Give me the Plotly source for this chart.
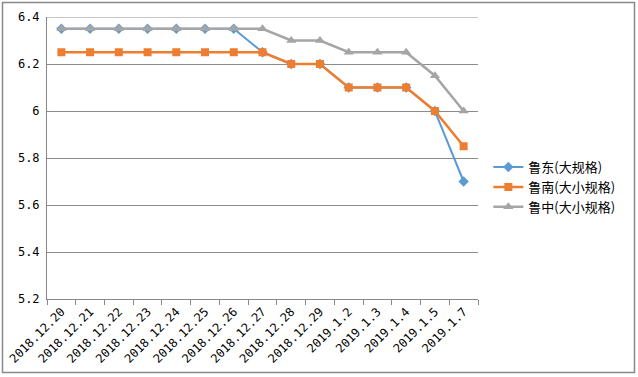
import plotly.graph_objects as go

dates = ["2018.12.20", "2018.12.21", "2018.12.22", "2018.12.23", "2018.12.24",
         "2018.12.25", "2018.12.26", "2018.12.27", "2018.12.28", "2018.12.29",
         "2019.1.2", "2019.1.3", "2019.1.4", "2019.1.5", "2019.1.7"]
ludong = [6.35, 6.35, 6.35, 6.35, 6.35, 6.35, 6.35, 6.25, 6.2, 6.2, 6.1, 6.1, 6.1, 6.0, 5.7]
lunan = [6.25, 6.25, 6.25, 6.25, 6.25, 6.25, 6.25, 6.25, 6.2, 6.2, 6.1, 6.1, 6.1, 6.0, 5.85]
luzhong = [6.35, 6.35, 6.35, 6.35, 6.35, 6.35, 6.35, 6.35, 6.3, 6.3, 6.25, 6.25, 6.25, 6.15, 6.0]
names = ["鲁东(大规格)", "鲁南(大小规格)", "鲁中(大小规格)"]
y_ticks = [5.2, 5.4, 5.6, 5.8, 6.0, 6.2, 6.4]
y_tick_text = ["5.2", "5.4", "5.6", "5.8", "6", "6.2", "6.4"]

fig = go.Figure()
fig.add_trace(go.Scatter(x=dates, y=ludong, name=names[0], mode="lines+markers",
                         line=dict(color="#5B9BD5", width=2),
                         marker=dict(symbol="diamond", size=8, color="#5B9BD5")))
fig.add_trace(go.Scatter(x=dates, y=lunan, name=names[1], mode="lines+markers",
                         line=dict(color="#ED7D31", width=2.5),
                         marker=dict(symbol="square", size=8, color="#ED7D31")))
fig.add_trace(go.Scatter(x=dates, y=luzhong, name=names[2], mode="lines+markers",
                         line=dict(color="#A5A5A5", width=2.5),
                         marker=dict(symbol="triangle-up", size=9, color="#A5A5A5")))

tickfont = dict(family="DejaVu Sans Mono", size=12, color="#000000")

W, H = 638, 377
l, r, t, b = 47, 160, 17, 78

fig.update_layout(
    width=W, height=H,
    margin=dict(l=l, r=r, t=t, b=b, autoexpand=False),
    paper_bgcolor="white", plot_bgcolor="white",
    showlegend=True,
    legend=dict(x=1.024, y=0.397, xanchor="left", yanchor="middle",
                font=dict(family="Noto Sans CJK SC", size=13, color="#000000"),
                bgcolor="rgba(0,0,0,0)", tracegroupgap=0),
    xaxis=dict(type="category", range=[-0.5, len(dates) - 0.5], tickangle=-45,
               tickfont=tickfont, automargin=False,
               showgrid=False, showline=True, linecolor="#888888", linewidth=1,
               ticks="outside", tickson="boundaries", ticklen=5, tickcolor="#888888",
               fixedrange=True),
    yaxis=dict(range=[5.2, 6.4], tickvals=y_ticks, ticktext=y_tick_text, tickfont=tickfont,
               automargin=False, ticklabelstandoff=4,
               showgrid=True, gridcolor="#8c8c8c", gridwidth=1,
               showline=True, linecolor="#888888", linewidth=1,
               ticks="", zeroline=False, fixedrange=True),
)

pw, ph = W - l - r, H - t - b
def px_x(x):
    return (x - l) / pw
def px_y(y):
    return (H - b - y) / ph
fig.add_shape(type="line", xref="paper", yref="y", x0=0, x1=1, y0=6.4, y1=6.4,
              line=dict(color="#8c8c8c", width=1))
fig.add_shape(type="rect", xref="paper", yref="paper",
              x0=px_x(2.5), x1=px_x(634.5), y0=px_y(372.5), y1=px_y(2.5),
              line=dict(color="#888888", width=1.5), fillcolor="rgba(0,0,0,0)")

fig.write_html("out.html", config={"displayModeBar": False},
               post_script="document.body.style.margin='0';document.body.style.overflow='hidden';")
